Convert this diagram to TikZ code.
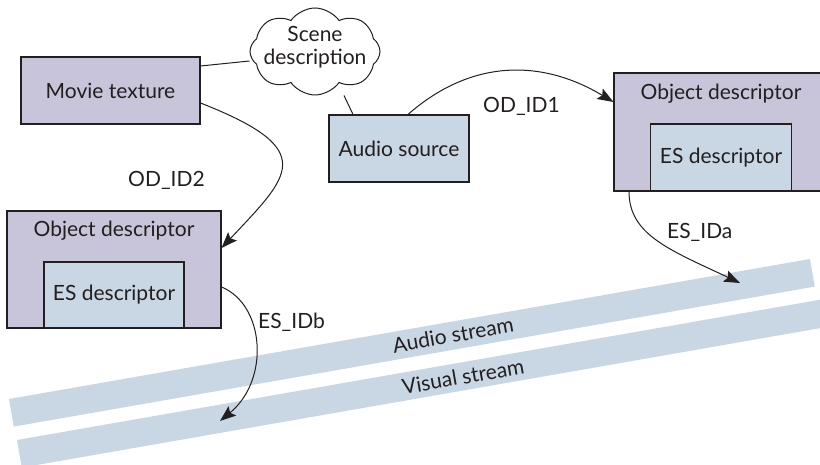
\documentclass[tikz,border=0pt]{standalone}
\usepackage{fontspec}
\setmainfont{Lato}
\usetikzlibrary{shapes.symbols,arrows.meta,calc}
\definecolor{odfill}{RGB}{200,196,217}
\definecolor{esfill}{RGB}{201,214,228}
\definecolor{ink}{RGB}{35,31,32}
\begin{document}
\begin{tikzpicture}[x=1pt, y=-1pt,
  font=\fontsize{21}{23}\selectfont, text=ink,
  mbox/.style={draw=ink, line width=1.1pt, fill=odfill, inner sep=0pt},
  bbox/.style={draw=ink, line width=1.1pt, fill=esfill, inner sep=0pt},
  link/.style={draw=ink, line width=1pt},
  arr/.style={link, -{Stealth[length=16pt,width=12pt,inset=3pt]}},
  lbl/.style={anchor=base west, inner sep=0pt}]
\useasboundingbox (0,0) rectangle (820,465);
\clip (0,0) rectangle (820,465);

% elementary streams, drawn as slanted bands
\fill[esfill] (9,399) -- (810,259) -- (814.8,286.6) -- (13.8,426.6) -- cycle;
\fill[esfill] (17,440) -- (834.6,297.2) -- (839.4,324.8) -- (21.8,467.6) -- cycle;
\node[rotate=9.91, inner sep=0pt] (audT) at (453,335) {Audio stream};
\node[rotate=9.91, inner sep=0pt] (visT) at (463,376.5) {Visual stream};
\coordinate (tipA) at (740,283);
\coordinate (tipB) at (220,421);

% scene nodes
\node[mbox, minimum width=179pt, minimum height=67pt] (movie) at (110.5,90.5) {Movie texture};
\node[bbox, minimum width=140pt, minimum height=67pt] (asrc) at (399,148.5) {Audio source};
\node[cloud, draw=ink, line width=1pt, fill=white, cloud puffs=8, cloud puff arc=110,
      aspect=1.5, inner sep=0pt, minimum width=130pt, minimum height=87pt]
      (scene) at (315,51.5) {};
\node[align=center, inner sep=0pt] (sceneT) at (315,47) {Scene\\description};

% object descriptors
\node[mbox, minimum width=214pt, minimum height=118pt] (odR) at (721,132) {};
\node[bbox, minimum width=141pt, minimum height=67pt, anchor=south] (esR) at (odR.south) {ES descriptor};
\node[anchor=base] (odRt) at ([yshift=-27.5pt]odR.north) {Object descriptor};

\node[mbox, minimum width=214pt, minimum height=117pt] (odL) at (114,269.5) {};
\node[bbox, minimum width=140pt, minimum height=66pt, anchor=south] (esL) at (odL.south) {ES descriptor};
\node[anchor=base] (odLt) at ([yshift=-25.7pt]odL.north) {Object descriptor};

% scene graph links
\draw[link] ([yshift=24.5pt]movie.east) -- ([yshift=-9.5pt]scene.west);
\draw[link] ([xshift=29pt]scene.south) -- ([xshift=-46pt]asrc.north);

% identifiers
\draw[arr] ([xshift=9pt]asrc.north) .. controls (470,60) and (540,58) .. ([yshift=30pt]odR.west);
\draw[arr] ([yshift=-12.5pt]movie.east) .. controls (320,150) and (290,175) .. ([yshift=21.5pt]odL.east);
\draw[arr] ([xshift=-92pt]odR.south) .. controls (629,235) and (670,250) .. (tipA);
\draw[arr] ([yshift=-17.5pt]odL.east) .. controls (265,305) and (270,380) .. (tipB);

\node[lbl] (l1) at (483,113) {OD\_ID1};
\node[lbl] (l2) at (128,187) {OD\_ID2};
\node[lbl] (la) at (667,239) {ES\_IDa};
\node[lbl] (lb) at (258,329) {ES\_IDb};
\end{tikzpicture}
\end{document}
